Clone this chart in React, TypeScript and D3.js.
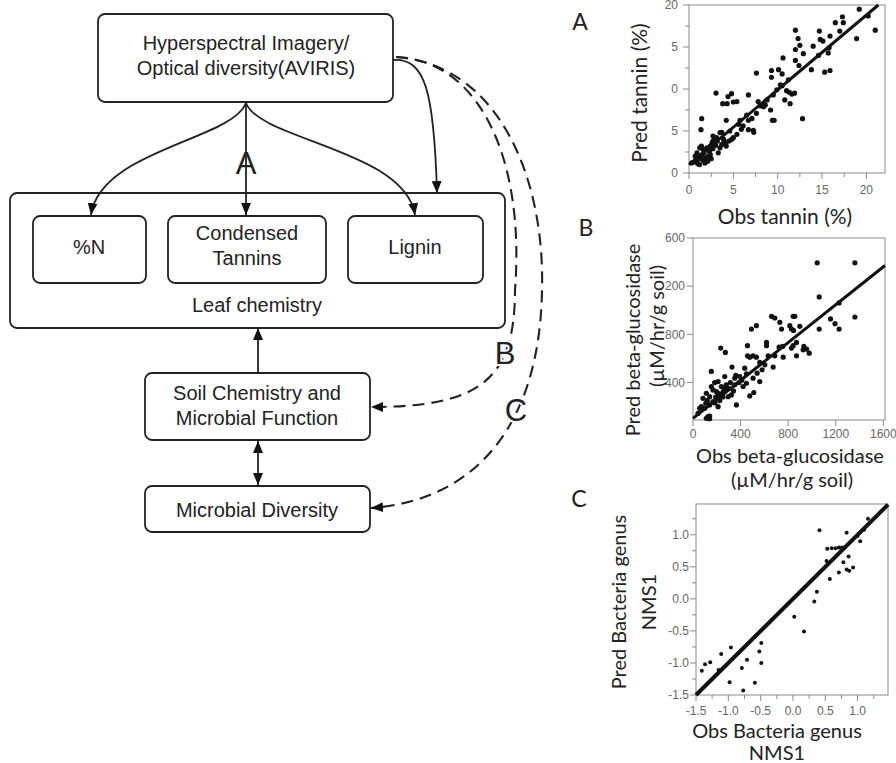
import React from "react";
import * as d3 from "d3";

// ---------- DATA ----------
// Panel A: observed vs predicted tannin (%)
const tanninPoints: [number, number][] = [
  [1.43, 6.47], [1.35, 5.16], [3.05, 9.52], [3.8, 8.25], [4.3, 8.25], [4.2, 6.27], [3.7, 4.84],
  [4.8, 9.44], [4.4, 9.1], [5.0, 8.45], [5.4, 8.5], [6.7, 9.3], [5.75, 6.27], [6.5, 6.9],
  [6.7, 6.27], [6.7, 5.16], [7.26, 5.08], [7.3, 4.84], [7.6, 11.9], [7.8, 8.5], [8.0, 8.0],
  [8.6, 8.1], [9.2, 7.5], [9.3, 12.2], [9.3, 11.4], [9.6, 6.27], [9.4, 6.27], [10.1, 12.3],
  [10.5, 11.8], [10.6, 13.7], [10.5, 10.4], [10.8, 8.7], [11.0, 9.8], [11.3, 9.6], [11.6, 9.4],
  [11.9, 9.5], [11.4, 8.25], [12.0, 13.4], [12.0, 17.0], [12.3, 16.0], [12.0, 14.7], [12.5, 15.2],
  [12.9, 14.2], [12.4, 12.8], [12.8, 6.47], [13.8, 12.3], [14.0, 15.1], [14.6, 14.0], [14.7, 16.9],
  [14.8, 15.9], [15.1, 15.7], [15.3, 12.0], [15.9, 12.2], [15.8, 14.9], [15.9, 16.3], [15.7, 14.3],
  [16.5, 17.9], [17.3, 18.6], [17.4, 17.9], [17.0, 16.9], [18.9, 16.0], [19.2, 19.5], [20.2, 18.7],
  [21.0, 17.0],
  [0.3, 1.2], [0.7, 1.3], [0.9, 1.5], [1.05, 1.7], [1.2, 2.0], [1.2, 3.0], [1.4, 3.2], [1.6, 2.8],
  [1.7, 2.4], [1.9, 1.8], [2.1, 1.4], [2.2, 2.0], [2.3, 2.6], [2.4, 3.2], [2.6, 3.6], [2.7, 2.9],
  [2.7, 3.8], [2.9, 4.2], [3.0, 3.3], [3.3, 2.4], [3.5, 3.0], [3.7, 3.4], [3.9, 4.0], [4.2, 3.2],
  [4.5, 3.8], [4.8, 4.0], [5.0, 4.2], [5.4, 4.6], [5.9, 5.2], [6.1, 5.6], [0.7, 2.0], [0.9, 2.4],
  [1.4, 1.7], [1.8, 1.2], [1.2, 1.0], [2.4, 2.2], [3.1, 4.2], [2.7, 4.4], [3.5, 4.8], [4.1, 3.6],
  [7.1, 6.5], [7.6, 7.1], [8.4, 7.9], [8.8, 8.7], [9.5, 9.3], [9.9, 9.9], [10.3, 10.5], [11.2, 11.1],
  [1.5, 2.2], [2.0, 3.0], [1.0, 1.1], [1.6, 1.5], [2.5, 1.7], [3.2, 3.8], [4.6, 5.0], [5.6, 5.8],
];
const tanninFit: [number, number][] = [[0, 1.0], [21.35, 20]];
const tanninXTicks = [0, 5, 10, 15, 20];
const tanninXMinor = [2.5, 7.5, 12.5, 17.5];
const tanninYTicks = [0, 5, 10, 15, 20];
const tanninYLabels = ["0", "5", "0", "5", "20"];
const tanninYMinor = [2.5, 7.5, 12.5, 17.5];

// Panel B: observed vs predicted beta-glucosidase
const glucPoints: [number, number][] = [
  [1044, 1394], [1361, 1394], [1061, 1111], [1361, 944], [1061, 844], [1156, 928], [1194, 889],
  [1228, 844], [1228, 1061], [660, 950], [688, 936], [730, 900], [744, 844], [814, 872], [842, 950],
  [856, 950], [828, 844], [845, 833], [898, 867], [491, 844], [533, 872], [233, 686], [272, 650],
  [458, 706], [458, 622], [477, 611], [618, 733], [618, 706], [724, 694], [758, 611], [828, 686],
  [842, 706], [870, 622], [932, 700], [955, 678], [977, 644], [870, 733], [154, 492], [328, 528],
  [435, 519], [505, 622], [533, 611], [561, 567], [604, 547], [674, 528], [632, 622], [581, 506],
  [539, 478], [505, 436], [449, 472], [393, 450], [351, 436], [314, 400], [267, 450], [239, 367],
  [196, 325], [168, 339], [140, 283], [107, 228], [70, 200], [42, 144], [126, 117], [365, 214],
  [477, 289], [511, 317], [351, 381], [421, 367], [295, 283], [225, 250], [211, 200], [267, 344],
  [323, 297], [387, 400], [211, 408], [182, 400], [154, 367], [112, 311], [84, 269], [168, 242],
  [56, 186], [98, 186], [140, 214], [211, 311], [253, 325], [449, 394], [561, 408], [688, 622],
  [753, 700], [926, 672], [112, 103], [140, 122], [140, 100], [190, 280], [230, 300], [300, 350],
  [340, 330], [280, 380], [410, 420], [360, 460], [120, 250], [250, 280], [185, 230],
];
const glucFit: [number, number][] = [[0, 103], [1614, 1372]];
const glucXTicks = [0, 400, 800, 1200, 1600];
const glucYTicks = [400, 800, 1200, 1600];
const glucYLabels = ["400", "800", "200", "600"];

// Panel C: observed vs predicted bacteria genus NMS1
const nmsPoints: [number, number][] = [
  [-1.41, -1.12], [-1.36, -1.02], [-1.28, -0.99], [-1.11, -0.86], [-1.15, -1.11], [-0.96, -0.76],
  [-0.98, -1.3], [-0.79, -1.08], [-0.71, -0.95], [-0.77, -1.43], [-0.59, -1.31], [-0.52, -0.82],
  [-0.49, -0.69], [-0.49, -1.0], [0.02, -0.28], [0.17, -0.51], [0.33, -0.04], [0.37, 0.11],
  [0.41, 1.07], [0.53, 0.78], [0.6, 0.79], [0.66, 0.79], [0.71, 0.8], [0.76, 0.8], [0.52, 0.59],
  [0.57, 0.31], [0.71, 0.41], [0.78, 0.57], [0.83, 1.03], [0.86, 0.66], [0.83, 0.46], [0.87, 0.44],
  [0.93, 0.49], [1.0, 0.98], [1.04, 0.9], [1.1, 1.08], [1.16, 1.25], [0.8, 0.8],
];
const nmsFit: [number, number][] = [[-1.5, -1.5], [1.47, 1.47]];
const nmsTicks = [-1.5, -1.0, -0.5, 0.0, 0.5, 1.0];
const nmsMinor = [-1.25, -0.75, -0.25, 0.25, 0.75, 1.25];

// ---------- COMPONENTS ----------
const TICK_FONT = "'Liberation Sans', Arial, sans-serif";
const TITLE_FONT = "Lato, 'Open Sans', sans-serif";
const DIAG_FONT = "'Liberation Sans', Arial, sans-serif";

type PanelProps = {
  x: d3.ScaleLinear<number, number>;
  y: d3.ScaleLinear<number, number>;
  points: [number, number][];
  fit: [number, number][];
  xTicks: number[];
  xLabels: string[];
  xMinor?: number[];
  yTicks: number[];
  yLabels: string[];
  yMinor?: number[];
  r: number;
  fitWidth: number;
  xLabelY: number;
  yLabelX: number;
};

function Panel(p: PanelProps) {
  const [x0, x1] = p.x.range();
  const [y0, y1] = p.y.range(); // y0 bottom, y1 top
  const line = d3
    .line<[number, number]>()
    .x((d) => p.x(d[0]))
    .y((d) => p.y(d[1]));
  const grey = "#8a8a8a";
  return (
    <g>
      <rect x={x0} y={y1} width={x1 - x0} height={y0 - y1} fill="none" stroke={grey} strokeWidth={1} />
      {p.xTicks.map((t, i) => (
        <g key={"xt" + i}>
          <line x1={p.x(t)} x2={p.x(t)} y1={y0} y2={y0 + 6} stroke={grey} />
          <text x={p.x(t)} y={p.xLabelY} textAnchor="middle" fontSize={12} fill="#666" fontFamily={TICK_FONT}>
            {p.xLabels[i]}
          </text>
        </g>
      ))}
      {(p.xMinor || []).map((t, i) => (
        <line key={"xm" + i} x1={p.x(t)} x2={p.x(t)} y1={y0} y2={y0 + 4} stroke={grey} />
      ))}
      {p.yTicks.map((t, i) => (
        <g key={"yt" + i}>
          <line x1={x0 - 6} x2={x0} y1={p.y(t)} y2={p.y(t)} stroke={grey} />
          <text x={p.yLabelX} y={p.y(t)} dy="0.35em" textAnchor="end" fontSize={12} fill="#666" fontFamily={TICK_FONT}>
            {p.yLabels[i]}
          </text>
        </g>
      ))}
      {(p.yMinor || []).map((t, i) => (
        <line key={"ym" + i} x1={x0 - 4} x2={x0} y1={p.y(t)} y2={p.y(t)} stroke={grey} />
      ))}
      {p.points.map((d, i) => (
        <circle key={"p" + i} cx={p.x(d[0])} cy={p.y(d[1])} r={p.r} fill="#111" />
      ))}
      <path d={line(p.fit) || ""} stroke="#111" strokeWidth={p.fitWidth} fill="none" />
    </g>
  );
}

function Diagram() {
  const s = "#222";
  const sw = 1.8;
  const txt = (x: number, y: number, t: string, size = 20) => (
    <text x={x} y={y} textAnchor="middle" dominantBaseline="central" fontSize={size} fontFamily={DIAG_FONT} fill="#222">
      {t}
    </text>
  );
  return (
    <g>
      <defs>
        <marker id="ah" viewBox="0 0 12 10" refX={12} refY={5} markerWidth={12} markerHeight={10}
          markerUnits="userSpaceOnUse" orient="auto-start-reverse">
          <path d="M0,0 L12,5 L0,10 z" fill="#111" stroke="none" />
        </marker>
      </defs>
      {/* top box */}
      <rect x={98} y={14} width={295} height={88} rx={7} fill="#fff" stroke={s} strokeWidth={sw} />
      {txt(246, 43, "Hyperspectral Imagery/")}
      {txt(246, 68, "Optical diversity(AVIRIS)")}
      {/* leaf chemistry */}
      <rect x={10} y={193} width={495} height={135} rx={7} fill="#fff" stroke={s} strokeWidth={sw} />
      <rect x={33} y={216} width={113} height={67} rx={7} fill="#fff" stroke={s} strokeWidth={sw} />
      <rect x={168} y={216} width={158} height={67} rx={7} fill="#fff" stroke={s} strokeWidth={sw} />
      <rect x={348} y={216} width={135} height={67} rx={7} fill="#fff" stroke={s} strokeWidth={sw} />
      {txt(89, 247, "%N")}
      {txt(247, 233, "Condensed")}
      {txt(247, 258, "Tannins")}
      {txt(415, 247, "Lignin")}
      {txt(257, 305, "Leaf chemistry")}
      {/* soil & microbial */}
      <rect x={145} y={373} width={225} height={67} rx={7} fill="#fff" stroke={s} strokeWidth={sw} />
      {txt(257, 393, "Soil Chemistry and")}
      {txt(257, 418, "Microbial Function")}
      <rect x={145} y={486} width={225} height={46} rx={7} fill="#fff" stroke={s} strokeWidth={sw} />
      {txt(257, 510, "Microbial Diversity")}
      {/* arrows A */}
      <path d="M246,103 C 232,140 100,150 91,215" fill="none" stroke={s} strokeWidth={sw} markerEnd="url(#ah)" />
      <path d="M246,103 L 246,215" fill="none" stroke={s} strokeWidth={sw} markerEnd="url(#ah)" />
      <path d="M246,103 C 260,140 405,150 415,215" fill="none" stroke={s} strokeWidth={sw} markerEnd="url(#ah)" />
      <path d="M393,60 C 425,58 434,90 437,193" fill="none" stroke={s} strokeWidth={sw} markerEnd="url(#ah)" />
      <text x={246} y={163} textAnchor="middle" dominantBaseline="central" fontSize={31} fontFamily={DIAG_FONT} fill="#222">A</text>
      {/* soil -> leaf */}
      <path d="M258,373 L258,328" fill="none" stroke={s} strokeWidth={sw} markerEnd="url(#ah)" />
      <path d="M258,441 L258,485" fill="none" stroke={s} strokeWidth={sw} markerEnd="url(#ah)" markerStart="url(#ah)" />
      {/* dashed B and C */}
      <path d="M396,57 C 480,60 525,160 515,290 C 515,380 480,407 371,407" fill="none" stroke={s} strokeWidth={2.1}
        strokeDasharray="12 7" markerEnd="url(#ah)" />
      <path d="M396,57 C 500,65 545,180 542,290 C 540,420 480,500 371,508" fill="none" stroke={s} strokeWidth={2.1}
        strokeDasharray="12 7" markerEnd="url(#ah)" />
      <text x={505} y={353} textAnchor="middle" dominantBaseline="central" fontSize={31} fontFamily={DIAG_FONT} fill="#222"
        stroke="#fff" strokeWidth={4} paintOrder="stroke">B</text>
      <text x={516} y={410} textAnchor="middle" dominantBaseline="central" fontSize={31} fontFamily={DIAG_FONT} fill="#222"
        stroke="#fff" strokeWidth={4} paintOrder="stroke">C</text>
    </g>
  );
}

export default function App() {
  const W = 896;
  const H = 763;
  const xA = d3.scaleLinear().domain([0, 22.1]).range([689, 885]);
  const yA = d3.scaleLinear().domain([0, 20]).range([173, 5]);
  const xB = d3.scaleLinear().domain([0, 1614]).range([693, 885]);
  const yB = d3.scaleLinear().domain([89, 1600]).range([420, 238]);
  const xC = d3.scaleLinear().domain([-1.5, 1.47]).range([696, 888]);
  const yC = d3.scaleLinear().domain([-1.5, 1.48]).range([695, 504]);
  const title = (x: number, y: number, t: string, rot = false, size = 20) => (
    <text
      x={x}
      y={y}
      textAnchor="middle"
      dominantBaseline="central"
      fontSize={size}
      fontFamily={TITLE_FONT}
      fill="#222"
      transform={rot ? `rotate(-90 ${x} ${y})` : undefined}
    >
      {t}
    </text>
  );
  return (
    <svg width={W} height={H} style={{ position: "absolute", left: 0, top: 0, background: "#fff" }}>
      <rect width={W} height={H} fill="#fff" />
      <Diagram />
      {/* Panel A */}
      <Panel x={xA} y={yA} points={tanninPoints} fit={tanninFit} xTicks={tanninXTicks}
        xLabels={tanninXTicks.map(String)} xMinor={tanninXMinor} yTicks={tanninYTicks} yLabels={tanninYLabels}
        yMinor={tanninYMinor} r={2.6} fitWidth={3} xLabelY={194} yLabelX={678} />
      {title(580, 21, "A", false, 23)}
      {title(638, 93, "Pred tannin (%)", true, 21)}
      {title(785, 215, "Obs tannin (%)", false, 21)}
      {/* Panel B */}
      <Panel x={xB} y={yB} points={glucPoints} fit={glucFit} xTicks={glucXTicks}
        xLabels={glucXTicks.map(String)} yTicks={glucYTicks} yLabels={glucYLabels}
        r={2.6} fitWidth={3} xLabelY={438} yLabelX={685} />
      {title(586, 227, "B", false, 23)}
      {title(632, 340, "Pred beta-glucosidase", true)}
      {title(656, 326, "(\u00b5M/hr/g soil)", true)}
      {title(790, 455, "Obs beta-glucosidase")}
      {title(792, 479, "(\u00b5M/hr/g soil)")}
      {/* Panel C */}
      <Panel x={xC} y={yC} points={nmsPoints} fit={nmsFit} xTicks={nmsTicks}
        xLabels={nmsTicks.map((d) => d.toFixed(1))} xMinor={nmsMinor} yTicks={nmsTicks}
        yLabels={nmsTicks.map((d) => d.toFixed(1))} yMinor={nmsMinor} r={2} fitWidth={4}
        xLabelY={715} yLabelX={689} />
      {title(579, 498, "C", false, 23)}
      {title(618, 602, "Pred Bacteria genus", true)}
      {title(648, 602, "NMS1", true)}
      {title(777, 730, "Obs Bacteria genus")}
      {title(777, 752, "NMS1")}
    </svg>
  );
}
